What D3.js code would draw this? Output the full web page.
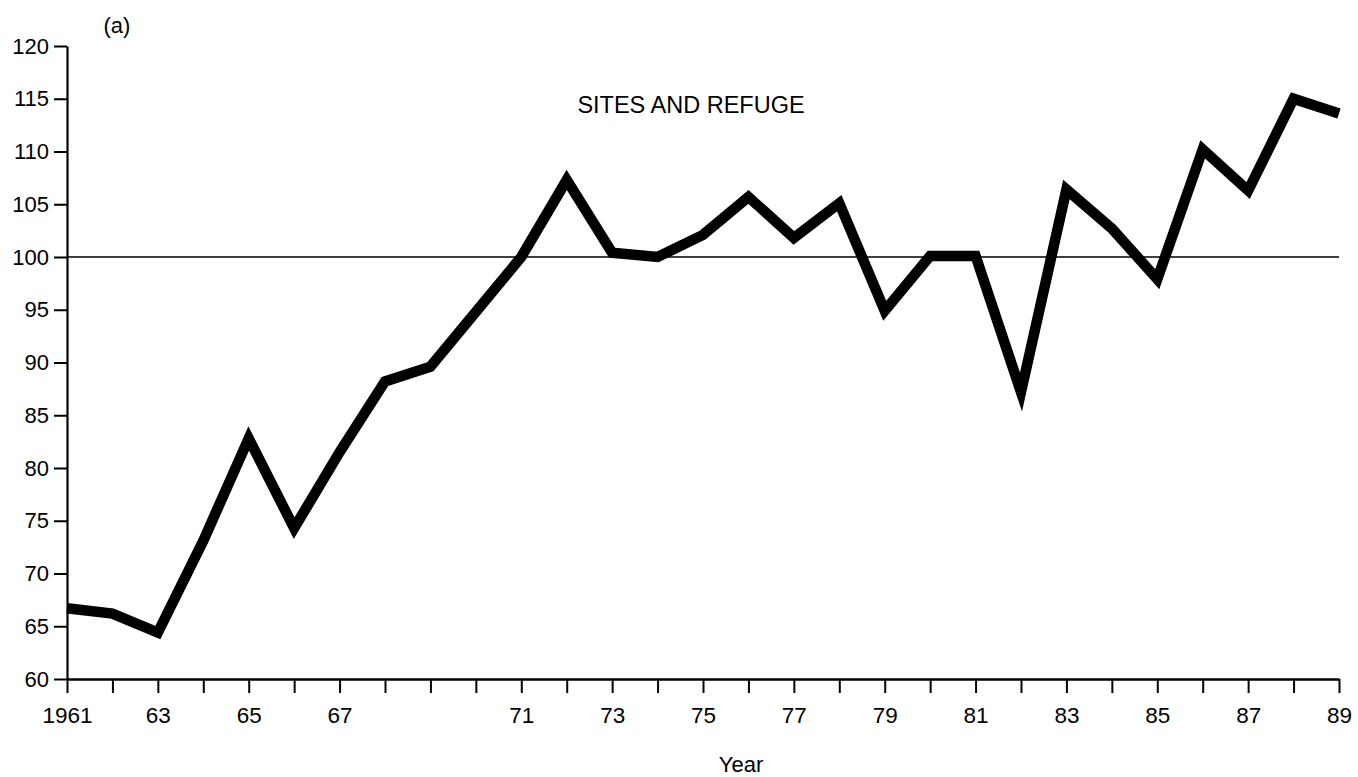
<!DOCTYPE html>
<html><head><meta charset="utf-8">
<script src="https://cdn.jsdelivr.net/npm/d3@7"></script>
<style>body{margin:0;background:#fff}svg{display:block}text{font-family:"Liberation Sans",Arial,Helvetica,sans-serif;fill:#000}</style>
</head><body>
<svg id="c" width="1358" height="777"></svg>
<script>
const years = [1961,1962,1963,1964,1965,1966,1967,1968,1969,1970,1971,1972,1973,1974,1975,1976,1977,1978,1979,1980,1981,1982,1983,1984,1985,1986,1987,1988,1989];
const values = [66.7,66.2,64.4,73.1,82.8,74.3,81.5,88.2,89.6,94.8,100.0,107.3,100.4,100.0,102.1,105.7,101.8,105.1,94.9,100.1,100.1,87.2,106.4,102.7,97.9,110.2,106.3,115.0,113.6];
const yTicks = [60,65,70,75,80,85,90,95,100,105,110,115,120];
const xLabels = {1961:"1961",1963:"63",1965:"65",1967:"67",1971:"71",1973:"73",1975:"75",1977:"77",1979:"79",1981:"81",1983:"83",1985:"85",1987:"87",1989:"89"};
const title = "SITES AND REFUGE";
const panel = "(a)";
const xTitle = "Year";

const svg = d3.select("#c");
const x = d3.scaleLinear().domain([1961,1989]).range([67,1339]);
const y = d3.scaleLinear().domain([60,120]).range([679,46]);

// y axis
const ya = svg.append("g").attr("transform","translate(67,0)")
  .call(d3.axisLeft(y).tickValues(yTicks).tickSize(13).tickPadding(5).tickSizeOuter(0));
ya.select(".domain").attr("stroke-width",2.2);
ya.selectAll(".tick line").attr("stroke-width",2);
ya.selectAll("text").attr("font-size",22).style("font-family","Liberation Sans, Arial, sans-serif");

// x axis
const xa = svg.append("g").attr("transform","translate(0,679)")
  .call(d3.axisBottom(x).tickValues(years).tickSize(14).tickPadding(14).tickSizeOuter(0)
    .tickFormat(d => xLabels[d] || ""));
xa.select(".domain").attr("stroke-width",2.6);
xa.selectAll(".tick line").attr("stroke-width",2);
xa.selectAll("text").attr("font-size",22.5).style("font-family","Liberation Sans, Arial, sans-serif");

// reference line at 100
svg.append("line").attr("x1",x(1961)).attr("x2",x(1989)).attr("y1",y(100)).attr("y2",y(100))
  .attr("stroke","#000").attr("stroke-width",1.5);

// data line
const line = d3.line().x((d,i)=>x(years[i])).y(d=>y(d));
svg.append("path").datum(values).attr("d",line).attr("fill","none")
  .attr("stroke","#000").attr("stroke-width",10.5).attr("stroke-linejoin","miter").attr("stroke-miterlimit",4);

svg.append("text").attr("x",691).attr("y",113).attr("text-anchor","middle").attr("font-size",23.5).text(title);
svg.append("text").attr("x",117).attr("y",33).attr("text-anchor","middle").attr("font-size",22).text(panel);
svg.append("text").attr("x",741).attr("y",772).attr("text-anchor","middle").attr("font-size",22).text(xTitle);
</script>
</body></html>
